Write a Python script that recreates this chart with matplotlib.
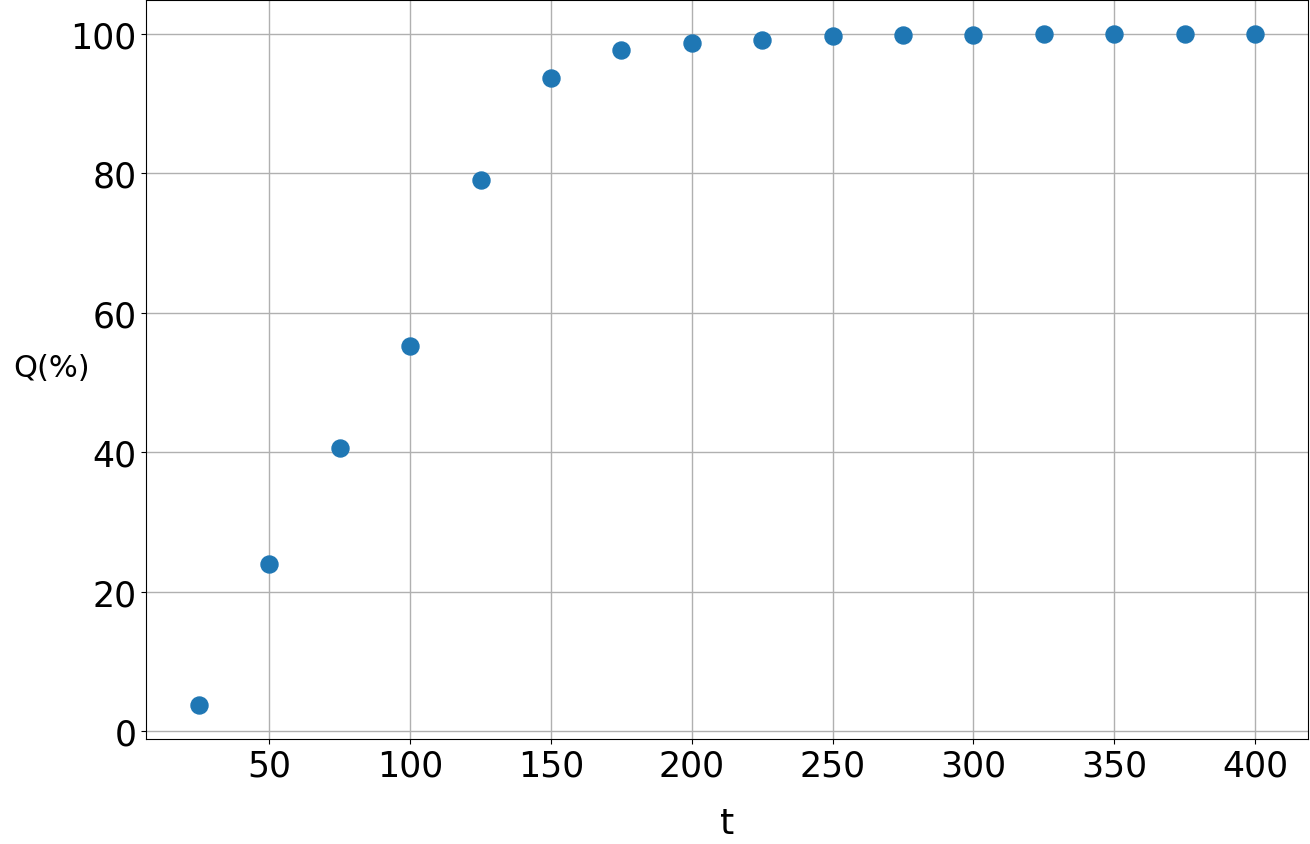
import matplotlib
matplotlib.use("Agg")
import matplotlib.pyplot as plt

t = [25, 50, 75, 100, 125, 150, 175, 200, 225, 250, 275, 300, 325, 350, 375, 400]
q = [3.7, 24.0, 40.6, 55.2, 79.0, 93.7, 97.7, 98.6, 99.1, 99.6, 99.8, 99.85, 99.95, 100.0, 100.0, 100.0]

fig = plt.figure(figsize=(13.1, 8.45), dpi=100)
ax = fig.add_axes([146/1310, 1 - 740/845, (1308-146)/1310, (740-1)/845])
ax.scatter(t, q, s=150, color="#1f77b4", zorder=3)
ax.grid(True, color="#b0b0b0", linewidth=1)
ax.set_axisbelow(True)
ax.tick_params(labelsize=25)
ax.set_xlabel("t", fontsize=26, labelpad=17)
ax.set_ylabel("Q(%)", fontsize=22, rotation=0, ha="center", va="center")
ax.yaxis.set_label_coords(-0.081, 0.503)
fig.savefig("out.png", dpi=100)
